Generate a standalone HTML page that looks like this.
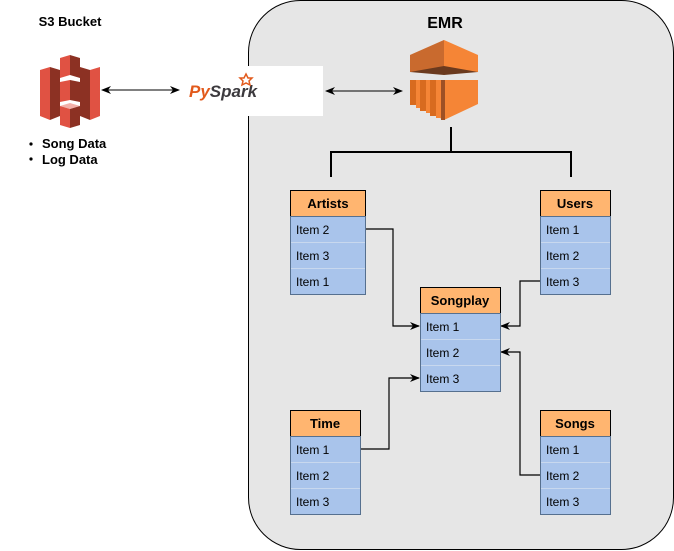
<!DOCTYPE html>
<html><head><meta charset="utf-8"><style>
html,body{margin:0;padding:0;background:#fff;}
body{width:674px;height:551px;position:relative;overflow:hidden;font-family:"Liberation Sans",Arial,sans-serif;}
</style></head><body>
<svg width="674" height="551" viewBox="0 0 674 551" xmlns="http://www.w3.org/2000/svg" style="position:absolute;left:0;top:0">
<defs>
<marker id="a" viewBox="0 0 10 10" refX="9" refY="5" markerUnits="userSpaceOnUse" markerWidth="10" markerHeight="10" orient="auto-start-reverse"><path d="M0,1 L10,5 L0,9 L3,5 z" fill="#000"/></marker>
</defs>
<rect x="248.5" y="0.5" width="425" height="549" rx="52" fill="#e6e6e6" stroke="#000" stroke-width="1"/>
<text x="445" y="28" font-size="16" font-weight="bold" text-anchor="middle">EMR</text>
<text x="70" y="26" font-size="13" font-weight="bold" text-anchor="middle">S3 Bucket</text>
<!-- S3 icon -->
<g>
<polygon points="40,70 50,67 50,120 40,116" fill="#e05243"/>
<polygon points="50,67 60,70 60,116 50,120" fill="#8c3123"/>
<polygon points="90,70 100,67 100,116 90,120" fill="#e05243"/>
<polygon points="80,67 90,70 90,120 80,116" fill="#8c3123"/>
<polygon points="60,58 70,55 70,75 60,78" fill="#e05243"/>
<polygon points="70,55 80,58 80,78 70,75" fill="#8c3123"/>
<polygon points="60,82 70,80 70,100 60,102" fill="#e05243"/>
<polygon points="70,80 80,82 80,102 70,100" fill="#8c3123"/>
<polygon points="60,106 70,103 80,106 70,109" fill="#f2b0a9"/>
<polygon points="60,106 70,109 70,128 60,125" fill="#e05243"/>
<polygon points="70,109 80,106 80,125 70,128" fill="#8c3123"/>
</g>
<circle cx="31" cy="144" r="1.6" fill="#000"/><circle cx="31" cy="159" r="1.6" fill="#000"/>
<text x="42" y="148" font-size="13" font-weight="bold">Song Data</text>
<text x="42" y="164" font-size="13" font-weight="bold">Log Data</text>
<rect x="185" y="66" width="138" height="50" fill="#fff"/>
<text x="189" y="97" font-size="17" font-weight="bold" fill="#e25a1c" font-style="italic">Py<tspan fill="#3c3a3e">Spark</tspan></text>
<path d="M246,74 l2,4 4,0 -3,3 1,4 -4,-2 -4,2 1,-4 -3,-3 4,0z" fill="none" stroke="#e25a1c" stroke-width="1.5"/>
<line x1="102" y1="90" x2="179" y2="90" stroke="#000" marker-start="url(#a)" marker-end="url(#a)"/>
<line x1="326" y1="91" x2="402" y2="91" stroke="#000" marker-start="url(#a)" marker-end="url(#a)"/>
<!-- EMR icon -->
<g>
<polygon points="410,55 444,40 478,55 478,72 410,72" fill="#f58536"/>
<polygon points="410,55 444,40 444,68 410,72" fill="#9d5025" opacity="0.5"/>
<polygon points="410,72 444,66 478,72 444,75" fill="#6b3a1e"/>
<polygon points="410,80 478,80 478,104 444,120 440,118 440,80" fill="#f58536"/>
<rect x="410" y="80" width="6" height="25" fill="#d86b1f"/>
<rect x="416" y="80" width="4" height="28" fill="#f58536"/>
<rect x="420" y="80" width="6" height="31" fill="#d86b1f"/>
<rect x="426" y="80" width="4" height="33" fill="#f58536"/>
<rect x="430" y="80" width="6" height="36" fill="#d86b1f"/>
<rect x="436" y="80" width="5" height="38" fill="#f58536"/>
<rect x="441" y="80" width="4" height="40" fill="#9d5025"/>
</g>
<g stroke="#000" stroke-width="2" fill="none">
<line x1="451" y1="127" x2="451" y2="152"/>
<polyline points="331,177 331,152 571,152 571,177"/>
</g>
<g stroke="#000" stroke-width="1.2" fill="none">
<polyline points="365,229 393,229 393,326 419,326" marker-end="url(#a)"/>
<polyline points="360,449 389,449 389,378 419,378" marker-end="url(#a)"/>
<polyline points="540,281 520,281 520,326 501,326" marker-end="url(#a)"/>
<polyline points="540,475 520,475 520,352 501,352" marker-end="url(#a)"/>
</g>
<g font-size="12">
<rect x="290.5" y="190.5" width="75" height="26" fill="#ffb570" stroke="#000"/>
<text x="328" y="208" font-size="13" font-weight="bold" text-anchor="middle">Artists</text>
<rect x="290.5" y="216.5" width="75" height="78" fill="#a9c4eb" stroke="#56708f"/>
<line x1="291" y1="242.5" x2="365" y2="242.5" stroke="#c8d8ee"/><line x1="291" y1="268.5" x2="365" y2="268.5" stroke="#c8d8ee"/>
<text x="296" y="234">Item 2</text><text x="296" y="260">Item 3</text><text x="296" y="286">Item 1</text>
<rect x="540.5" y="190.5" width="70" height="26" fill="#ffb570" stroke="#000"/>
<text x="575" y="208" font-size="13" font-weight="bold" text-anchor="middle">Users</text>
<rect x="540.5" y="216.5" width="70" height="78" fill="#a9c4eb" stroke="#56708f"/>
<line x1="541" y1="242.5" x2="610" y2="242.5" stroke="#c8d8ee"/><line x1="541" y1="268.5" x2="610" y2="268.5" stroke="#c8d8ee"/>
<text x="546" y="234">Item 1</text><text x="546" y="260">Item 2</text><text x="546" y="286">Item 3</text>
<rect x="420.5" y="287.5" width="80" height="26" fill="#ffb570" stroke="#000"/>
<text x="460" y="305" font-size="13" font-weight="bold" text-anchor="middle">Songplay</text>
<rect x="420.5" y="313.5" width="80" height="78" fill="#a9c4eb" stroke="#56708f"/>
<line x1="421" y1="339.5" x2="500" y2="339.5" stroke="#c8d8ee"/><line x1="421" y1="365.5" x2="500" y2="365.5" stroke="#c8d8ee"/>
<text x="426" y="331">Item 1</text><text x="426" y="357">Item 2</text><text x="426" y="383">Item 3</text>
<rect x="290.5" y="410.5" width="70" height="26" fill="#ffb570" stroke="#000"/>
<text x="325" y="428" font-size="13" font-weight="bold" text-anchor="middle">Time</text>
<rect x="290.5" y="436.5" width="70" height="78" fill="#a9c4eb" stroke="#56708f"/>
<line x1="291" y1="462.5" x2="360" y2="462.5" stroke="#c8d8ee"/><line x1="291" y1="488.5" x2="360" y2="488.5" stroke="#c8d8ee"/>
<text x="296" y="454">Item 1</text><text x="296" y="480">Item 2</text><text x="296" y="506">Item 3</text>
<rect x="540.5" y="410.5" width="70" height="26" fill="#ffb570" stroke="#000"/>
<text x="575" y="428" font-size="13" font-weight="bold" text-anchor="middle">Songs</text>
<rect x="540.5" y="436.5" width="70" height="78" fill="#a9c4eb" stroke="#56708f"/>
<line x1="541" y1="462.5" x2="610" y2="462.5" stroke="#c8d8ee"/><line x1="541" y1="488.5" x2="610" y2="488.5" stroke="#c8d8ee"/>
<text x="546" y="454">Item 1</text><text x="546" y="480">Item 2</text><text x="546" y="506">Item 3</text>
</g>
</svg>
</body></html>
